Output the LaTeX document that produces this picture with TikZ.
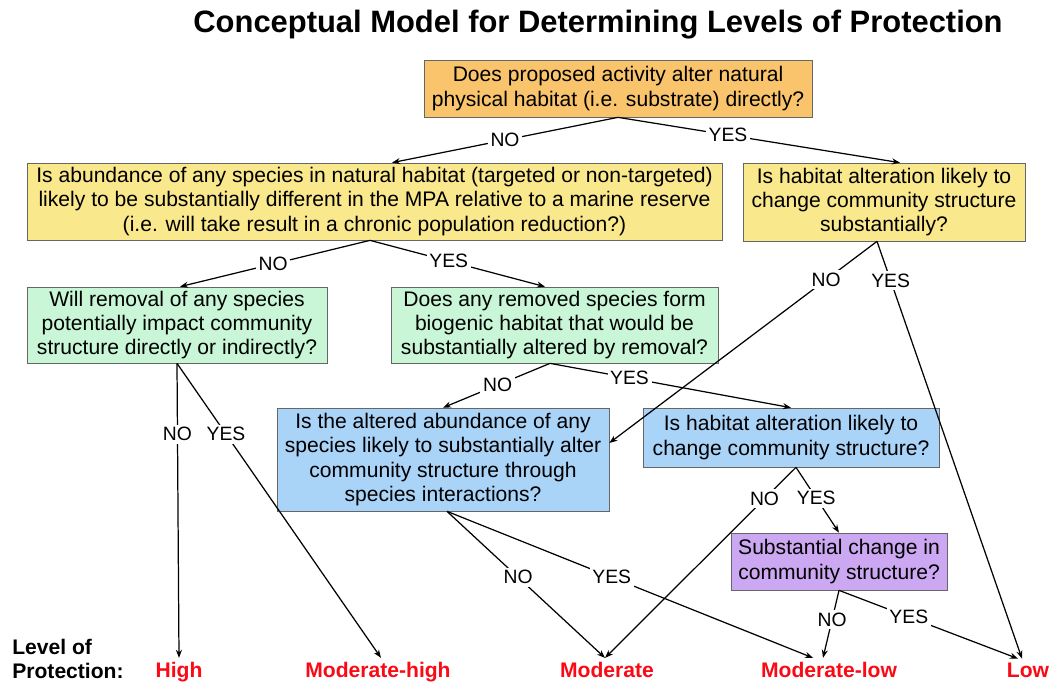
\documentclass[tikz,border=0pt]{standalone}
\usepackage{fontspec}
\setmainfont{Liberation Sans}
\usetikzlibrary{arrows.meta}

\definecolor{boxorange}{RGB}{249,196,107}
\definecolor{boxyellow}{RGB}{250,232,140}
\definecolor{boxgreen}{RGB}{200,246,214}
\definecolor{boxblue}{RGB}{170,211,248}
\definecolor{boxpurple}{RGB}{205,168,242}
\definecolor{levelred}{RGB}{250,10,20}

\begin{document}
\begin{tikzpicture}[
      x=0.02cm, y=-0.02cm,
      >={Stealth[scale=0.75]},
      question/.style={
        draw=black!60,
        align=center,
        inner sep=0pt,
        font=\fontsize{12}{13.8}\selectfont
      },
      answer/.style={
        fill=white,
        inner sep=1.5pt,
        font=\fontsize{11}{13}\selectfont
      },
      level/.style={
        text=levelred,
        anchor=base,
        inner sep=2pt,
        font=\fontsize{12}{14}\selectfont\bfseries
      },
      decision/.style={
        ->,
        line width=0.7pt
      },
    ]

    \useasboundingbox (0,0) rectangle (1050,681);

    \node[font=\fontsize{17.6}{20}\selectfont\bfseries] (title) at (598,25)
      {Conceptual Model for Determining Levels of Protection};

    \node [question, fill=boxorange, minimum width=7.76cm, minimum height=1.14cm] (substrate) at (618,88.5)
      {Does proposed activity alter natural\\physical habitat (i.e. substrate) directly?};
    \node [question, fill=boxyellow, minimum width=13.9cm, minimum height=1.54cm] (abundance) at (374.5,201.5)
      {Is abundance of any species in natural habitat (targeted or non-targeted)\\likely to be substantially different in the MPA relative to a marine reserve\\(i.e. will take result in a chronic population reduction?)};
    \node [question, fill=boxyellow, minimum width=5.64cm, minimum height=1.56cm] (habitat) at (884,202)
      {Is habitat alteration likely to\\change community structure\\substantially?};
    \node [question, fill=boxgreen, minimum width=6cm, minimum height=1.52cm] (removal) at (177,325)
      {Will removal of any species\\potentially impact community\\structure directly or indirectly?};
    \node [question, fill=boxgreen, minimum width=6.54cm, minimum height=1.52cm] (biogenic) at (554.5,325)
      {Does any removed species form\\biogenic habitat that would be\\substantially altered by removal?};
    \node [question, fill=boxblue, minimum width=6.64cm, minimum height=2.06cm] (interact) at (443,459.5)
      {Is the altered abundance of any\\species likely to substantially alter\\community structure through\\species interactions?};
    \node [question, fill=boxblue, minimum width=5.92cm, minimum height=1.18cm] (change) at (791,437.5)
      {Is habitat alteration likely to\\change community structure?};
    \node [question, fill=boxpurple, minimum width=4.32cm, minimum height=1.14cm] (substantial) at (839,561.5)
      {Substantial change in\\community structure?};

    \node [font=\fontsize{12}{14}\selectfont\bfseries, align=left, anchor=west, inner sep=0pt] (levelof) at (12,659)
      {Level of\\Protection:};
    \node [level] (high) at (179,677) {High};
    \node [level] (modhigh) at (378,677) {Moderate-high};
    \node [level] (moderate) at (607,677) {Moderate};
    \node [level] (modlow) at (829,677) {Moderate-low};
    \node [level] (low) at (1028,677) {Low};

    \draw [decision] (substrate.south) -- node[answer, pos=0.5] {NO} ([xshift=0.35cm]abundance.north);
    \draw [decision] (substrate.south) -- node[answer, pos=0.39] {YES} ([xshift=0.32cm]habitat.north);

    \draw [decision] ([xshift=-0.09cm]abundance.south) -- node[answer, pos=0.51] {NO} ([xshift=0.06cm]removal.north);
    \draw [decision] ([xshift=-0.09cm]abundance.south) -- node[answer, pos=0.45] {YES} ([xshift=-0.19cm]biogenic.north);

    \draw [decision] ([xshift=-0.14cm]habitat.south) -- node[answer, pos=0.19] {NO} ([yshift=0.33cm]interact.east);
    \draw [decision] ([xshift=-0.14cm]habitat.south) -- node[answer, pos=0.094] {YES} ([xshift=-0.12cm]low.north);

    \draw [decision] (removal.south) -- node[answer, pos=0.24] {NO} (high.north);
    \draw [decision] (removal.south) -- node[answer, pos=0.24] {YES} ([xshift=0.06cm]modhigh.north);

    \draw [decision] ([xshift=-0.09cm]biogenic.south) -- node[answer, pos=0.49] {NO} (interact.north);
    \draw [decision] ([xshift=-0.09cm]biogenic.south) -- node[answer, pos=0.33] {YES} (change.north);

    \draw [decision] ([xshift=0.08cm]interact.south) -- node[answer, pos=0.45] {NO} ([xshift=-0.04cm]moderate.north);
    \draw [decision] ([xshift=0.08cm]interact.south) -- node[answer, pos=0.45] {YES} ([xshift=-0.32cm]modlow.north);

    \draw [decision] ([xshift=0.1cm]change.south) -- node[answer, pos=0.165] {NO} ([xshift=-0.04cm]moderate.north);
    \draw [decision] ([xshift=0.1cm]change.south) -- node[answer, pos=0.47] {YES} (substantial.north);

    \draw [decision] (substantial.south) -- node[answer, pos=0.43] {NO} ([xshift=-0.12cm]modlow.north);
    \draw [decision] (substantial.south) -- node[answer, pos=0.39] {YES} ([xshift=-0.2cm]low.north);
  \end{tikzpicture}
\end{document}
